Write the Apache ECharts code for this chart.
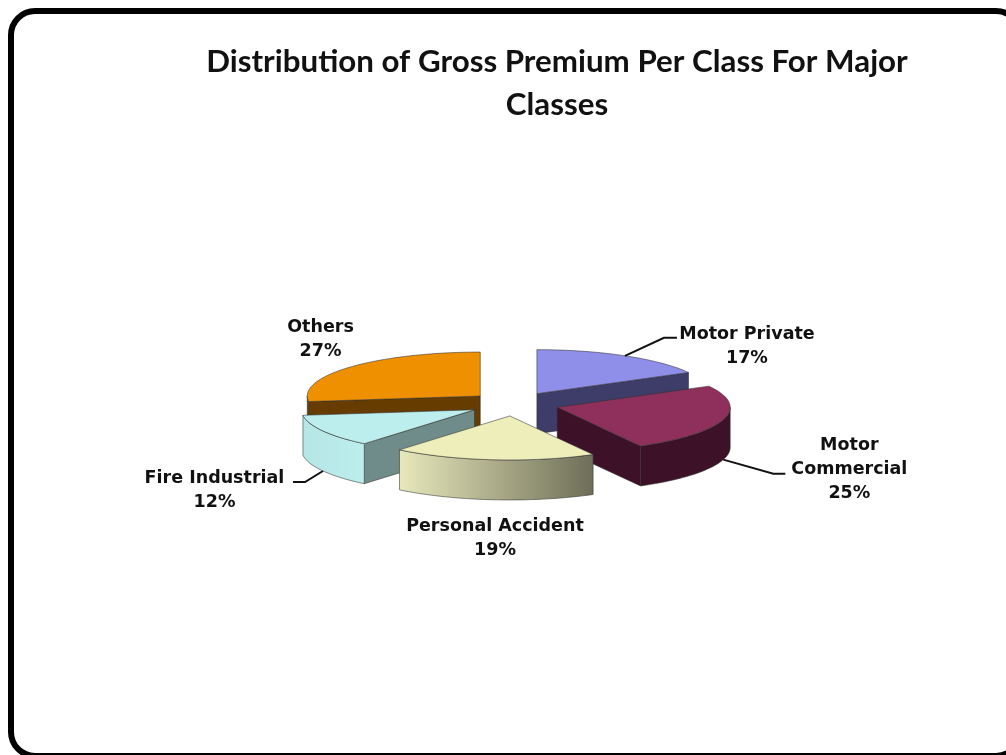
<!DOCTYPE html>
<html>
<head>
<meta charset="utf-8">
<style>html,body{margin:0;padding:0;background:#fff}#c{width:1006px;height:755px}</style>
<script src="https://cdn.jsdelivr.net/npm/echarts@6/dist/echarts.min.js"></script>
</head>
<body>
<div id="c"></div>
<script>
var titleText = 'Distribution of Gross Premium Per Class For Major\nClasses';
var categories = ['Motor Private', 'Motor Commercial', 'Personal Accident', 'Fire Industrial', 'Others'];
var labelTexts = ['Motor Private', 'Motor\nCommercial', 'Personal Accident', 'Fire Industrial', 'Others'];
var shares = [17, 25, 19, 12, 27];

// styling / layout only
var topColors = ['#8f8fe9', '#8f2f5c', '#eeeebb', '#bceeee', '#ee9000'];
var cutColors = ['#3e3c68', '#3d1228', '#6f6f58', '#6f8c8a', '#663c00'];
var wallColors = [['#3e3c68', '#3e3c68'], ['#3d1228', '#3d1228'], ['#e8e8bc', '#6e6e58'], ['#b6e6e6', '#bceeee'], ['#663c00', '#663c00']];
var drawOrder = [4, 0, 3, 1, 2];
var CX = 514, CY = 404, RX = 173, RY = 44, DEPTH = 40, EXPLODE = 0.26;
// label centre relative to the slice's rim mid-point, leader elbow offsets
var labelOffset = [[122, -9], [126, 9.5], [1.5, 79], [-108.5, 19], [-30, -27.5]];
var leaders = [
  {from: 'top', knee: [39, -18], end: [52, -18]},
  {from: 'bottom', knee: [50, 14], end: [62, 14]},
  null,
  {from: 'bottom', knee: [-18, 11], end: [-30, 11]},
  null
];

var total = shares.reduce(function (a, b) { return a + b; }, 0);

function pt(ox, oy, deg, dz) {
  var r = deg * Math.PI / 180;
  return [ox + RX * Math.sin(r), oy - RY * Math.cos(r) + (dz || 0)];
}
function rim(ox, oy, a0, a1, dz) {
  var out = [], n = Math.max(2, Math.ceil((a1 - a0) / 2));
  for (var i = 0; i <= n; i++) out.push(pt(ox, oy, a0 + (a1 - a0) * i / n, dz));
  return out;
}
var outline = {stroke: 'rgba(50,50,50,0.55)', lineWidth: 1, lineJoin: 'round'};
function style(fill) { return Object.assign({fill: fill}, outline); }

function renderSlice(params, api) {
  var idx = drawOrder[params.dataIndex];
  var value = api.value(1);
  var before = 0;
  for (var k = 0; k < idx; k++) before += shares[k];
  var a0 = before / total * 360, a1 = a0 + value / total * 360, mid = (a0 + a1) / 2;
  var mr = mid * Math.PI / 180;
  var ox = CX + RX * EXPLODE * Math.sin(mr), oy = CY - RY * EXPLODE * 1.05 * Math.cos(mr);
  var kids = [];
  // cut faces that turn toward the viewer
  function cut(a) {
    var p = pt(ox, oy, a);
    kids.push({type: 'polygon', shape: {points: [[ox, oy], p, [p[0], p[1] + DEPTH], [ox, oy + DEPTH]]}, style: style(cutColors[idx])});
  }
  if (a1 > 0 && a1 < 180) cut(a1);
  if (a0 > 180 && a0 < 360) cut(a0);
  // outer wall, front half only
  var w0 = Math.max(a0, 90), w1 = Math.min(a1, 270);
  if (w1 > w0) {
    var pts = rim(ox, oy, w0, w1).concat(rim(ox, oy, w0, w1, DEPTH).reverse());
    var xs = pts.map(function (p) { return p[0]; });
    var minX = Math.min.apply(null, xs), maxX = Math.max.apply(null, xs);
    kids.push({type: 'polygon', shape: {points: pts}, style: style({
      type: 'linear', x: minX, y: 0, x2: maxX, y2: 0, global: true,
      colorStops: [{offset: 0, color: wallColors[idx][0]}, {offset: 1, color: wallColors[idx][1]}]
    })});
  }
  // top face
  kids.push({type: 'polygon', shape: {points: [[ox, oy]].concat(rim(ox, oy, a0, a1))}, style: style(topColors[idx])});
  // leader line
  var rimTop = pt(ox, oy, mid), L = leaders[idx];
  if (L) {
    var s = L.from === 'bottom' ? [rimTop[0], rimTop[1] + DEPTH] : rimTop;
    kids.push({type: 'polyline', shape: {points: [s, [s[0] + L.knee[0], s[1] + L.knee[1]], [s[0] + L.end[0], s[1] + L.end[1]]]},
      style: {stroke: '#111', lineWidth: 2, fill: 'none'}});
  }
  // label
  var off = labelOffset[idx];
  var anchor = L && L.from === 'bottom' ? [rimTop[0], rimTop[1] + DEPTH] : rimTop;
  kids.push({type: 'text', style: {
    x: anchor[0] + off[0], y: anchor[1] + off[1],
    text: labelTexts[idx] + '\n' + value + '%',
    fill: '#111', align: 'center', verticalAlign: 'middle',
    font: 'bold 17.5px "DejaVu Sans"', lineHeight: 24
  }});
  return {type: 'group', children: kids};
}

var chart = echarts.init(document.getElementById('c'), null, {renderer: 'canvas'});
chart.setOption({
  animation: false,
  backgroundColor: '#fff',
  title: {
    text: titleText, left: 552, top: 35, textAlign: 'center',
    textStyle: {fontFamily: 'Lato', fontWeight: 'bold', fontSize: 31.3, lineHeight: 43, color: '#111'}
  },
  graphic: [{
    type: 'rect', shape: {x: 11, y: 11, width: 1009, height: 745, r: 24},
    style: {fill: 'none', stroke: '#000', lineWidth: 6}, silent: true
  }],
  xAxis: {show: false, type: 'category', data: drawOrder.map(function (i) { return categories[i]; })},
  yAxis: {show: false, type: 'value'},
  grid: {left: 0, right: 0, top: 0, bottom: 0},
  series: [{
    type: 'custom',
    coordinateSystem: 'cartesian2d',
    silent: true,
    clip: false,
    renderItem: renderSlice,
    data: drawOrder.map(function (i) { return [categories[i], shares[i]]; })
  }]
});
</script>
</body>
</html>
